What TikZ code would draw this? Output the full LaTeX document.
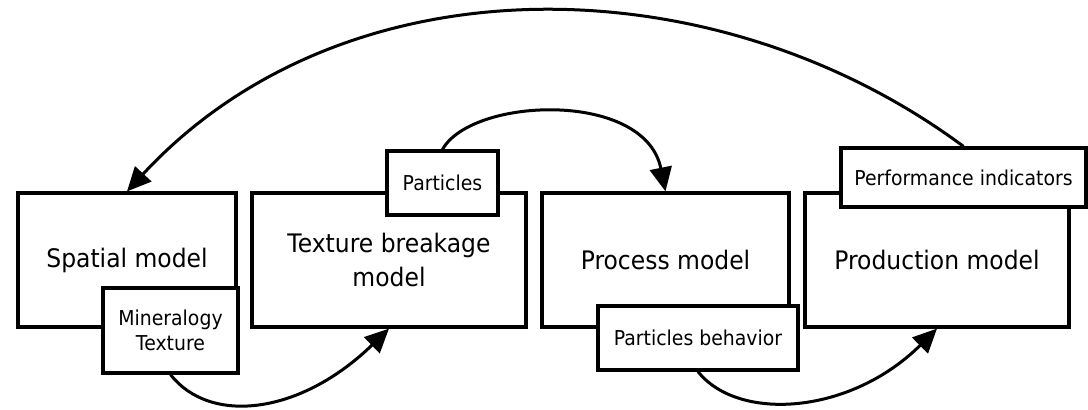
\documentclass[tikz,border=0pt]{standalone}
\usepackage{fontspec}
\setmainfont[FakeStretch=0.92]{DejaVu Sans}
\usetikzlibrary{arrows.meta}
\begin{document}
\begin{tikzpicture}[x=1pt,y=-1pt,
  bigbox/.style={draw,line width=3.2pt,fill=white,inner sep=0pt,align=center,
    font=\fontsize{25.5}{34}\selectfont},
  smallbox/.style={draw,line width=3.2pt,fill=white,inner sep=0pt,align=center,
    font=\fontsize{20.5}{25}\selectfont},
  flow/.style={line width=3pt,-{Triangle[length=24pt,width=22pt]}}]
\useasboundingbox (0,0) rectangle (1088,410);
% main boxes
\node[bigbox,minimum width=218pt,minimum height=134pt] (sp) at (127,260) {Spatial model};
\node[bigbox,minimum width=274pt,minimum height=134pt] (tb) at (389,260) {Texture breakage\\model};
\node[bigbox,minimum width=247pt,minimum height=134pt] (pm) at (665.5,260) {Process model};
\node[bigbox,minimum width=264pt,minimum height=134pt] (pr) at (937,260) {Production model};
% overlay boxes
\node[smallbox,minimum width=135pt,minimum height=85pt] (mt) at (170.5,330.5) {Mineralogy\\Texture};
\node[smallbox,minimum width=111pt,minimum height=64pt] (pa) at (442.5,183) {Particles};
\node[smallbox,minimum width=200pt,minimum height=64pt] (pb) at (698,338) {Particles behavior};
\node[smallbox,minimum width=245pt,minimum height=59pt] (pi) at (963.5,177.5) {Performance indicators};
% connectors
\draw[flow] (pi.north) .. controls (715,-38) and (345,-44) .. (sp.north);
\draw[flow] (pa.north) .. controls (472,97) and (645,90) .. (pm.north);
\draw[flow] (mt.south) .. controls (210,425) and (300,415) .. (tb.south);
\draw[flow] (pb.south) .. controls (738,422) and (850,415) .. (pr.south);
\end{tikzpicture}
\end{document}
